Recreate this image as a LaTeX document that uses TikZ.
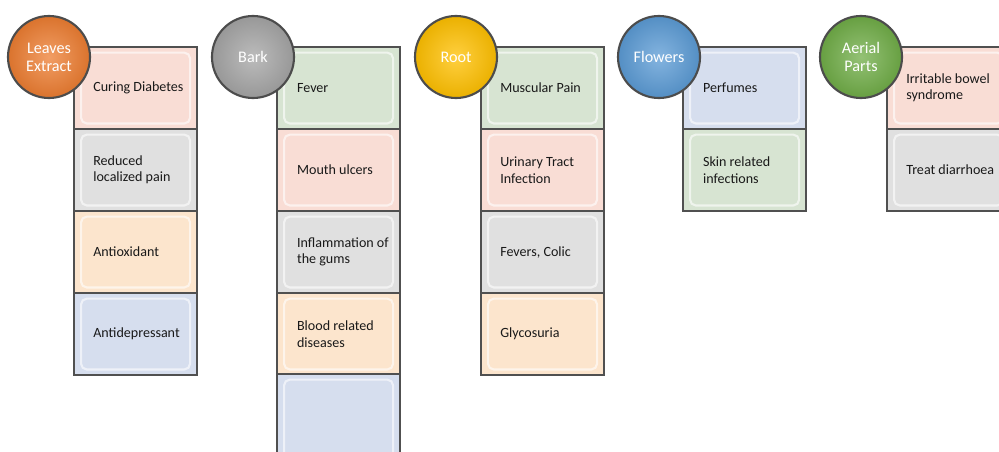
\documentclass[tikz,border=0pt]{standalone}
\usepackage{fontspec}
\setmainfont{Carlito}
\usetikzlibrary{positioning,shapes.geometric}
\definecolor{leaforange}{RGB}{237,125,49}
\definecolor{barkgray}{RGB}{165,165,165}
\definecolor{rootyellow}{RGB}{255,192,0}
\definecolor{flowerblue}{RGB}{91,155,213}
\definecolor{aerialgreen}{RGB}{112,173,71}
\definecolor{pinkcell}{RGB}{249,221,213}
\definecolor{greencell}{RGB}{215,228,210}
\definecolor{graycell}{RGB}{224,224,224}
\definecolor{peachcell}{RGB}{252,229,205}
\definecolor{bluecell}{RGB}{214,222,238}
\definecolor{cellline}{RGB}{80,80,80}
\tikzstyle{cell} = [rectangle, draw=cellline, line width=1.5pt, minimum width=3.075cm, minimum height=2.05cm, anchor=north west,
  path picture={\draw[white, opacity=0.6, line width=1.5pt, rounded corners=4pt] ([shift={(5pt,4pt)}]path picture bounding box.south west) rectangle ([shift={(-5pt,-4pt)}]path picture bounding box.north east);}]
\tikzstyle{txt} = [inner sep=0pt, align=left, text=black!90, font=\fontsize{10}{11.6}\selectfont]
\tikzstyle{part} = [circle, minimum size=2.05cm, draw=black!70, line width=1.5pt, text=white, align=center, font=\fontsize{11.5}{12.8}\selectfont]

\begin{document}
\begin{tikzpicture}[x=0.025cm,y=-0.025cm]
\useasboundingbox (0,0) rectangle (999,452);
% leaves extract
\node[cell, fill=pinkcell] (l1) at (73,46) {};
\node[cell, fill=graycell] (l2) at (73,128) {};
\node[cell, fill=peachcell] (l3) at (73,210) {};
\node[cell, fill=bluecell] (l4) at (73,292) {};
\node[txt, right=0.5cm of l1.west] (tl1) {Curing Diabetes};
\node[txt, right=0.5cm of l2.west] (tl2) {Reduced\\localized pain};
\node[txt, right=0.5cm of l3.west] (tl3) {Antioxidant};
\node[txt, right=0.5cm of l4.west] (tl4) {Antidepressant};
\node[part, inner color=leaforange!75!white, outer color=leaforange!92!black] (leaves) at (49,57) {Leaves\\Extract};
% bark
\node[cell, fill=greencell] (b1) at (276,46) {};
\node[cell, fill=pinkcell] (b2) at (276,128) {};
\node[cell, fill=graycell] (b3) at (276,210) {};
\node[cell, fill=peachcell] (b4) at (276,292) {};
\node[cell, fill=bluecell, minimum height=2.6cm] (b5) at (276,373) {};
\node[txt, right=0.52cm of b1.west] (tb1) {Fever};
\node[txt, right=0.52cm of b2.west] (tb2) {Mouth ulcers};
\node[txt, right=0.52cm of b3.west] (tb3) {Inflammation of\\the gums};
\node[txt, right=0.52cm of b4.west] (tb4) {Blood related\\diseases};
\node[part, inner color=barkgray!75!white, outer color=barkgray!92!black] (bark) at (253,57) {Bark};
% root
\node[cell, fill=greencell] (r1) at (480,46) {};
\node[cell, fill=pinkcell] (r2) at (480,128) {};
\node[cell, fill=graycell] (r3) at (480,210) {};
\node[cell, fill=peachcell] (r4) at (480,292) {};
\node[txt, right=0.5cm of r1.west] (tr1) {Muscular Pain};
\node[txt, right=0.5cm of r2.west] (tr2) {Urinary Tract\\Infection};
\node[txt, right=0.5cm of r3.west] (tr3) {Fevers, Colic};
\node[txt, right=0.5cm of r4.west] (tr4) {Glycosuria};
\node[part, inner color=rootyellow!75!white, outer color=rootyellow!92!black] (root) at (456,57) {Root};
% flowers
\node[cell, fill=bluecell] (f1) at (682,46) {};
\node[cell, fill=greencell] (f2) at (682,128) {};
\node[txt, right=0.52cm of f1.west] (tf1) {Perfumes};
\node[txt, right=0.52cm of f2.west] (tf2) {Skin related\\infections};
\node[part, inner color=flowerblue!75!white, outer color=flowerblue!92!black] (flowers) at (659,57) {Flowers};
% aerial parts
\node[cell, fill=pinkcell] (a1) at (886,46) {};
\node[cell, fill=graycell] (a2) at (886,128) {};
\node[txt, right=0.5cm of a1.west] (ta1) {Irritable bowel\\syndrome};
\node[txt, right=0.5cm of a2.west] (ta2) {Treat diarrhoea};
\node[part, inner color=aerialgreen!75!white, outer color=aerialgreen!92!black] (aerial) at (861,57) {Aerial\\Parts};
\end{tikzpicture}
\end{document}
